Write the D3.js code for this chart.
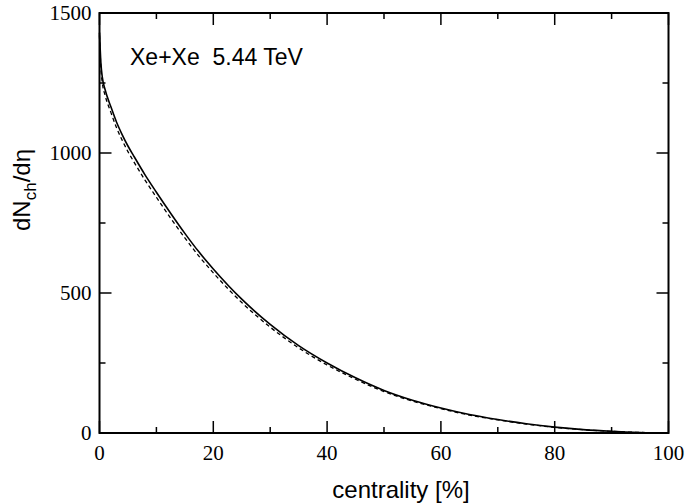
<!DOCTYPE html>
<html>
<head>
<meta charset="utf-8">
<script src="https://cdn.jsdelivr.net/npm/d3@7"></script>
<style>
  body { margin: 0; background: #fff; }
  text { fill: #000; }
</style>
</head>
<body>
<div id="chart"></div>
<script>
const WIDTH = 685, HEIGHT = 503;
const margin = { left: 99.5, right: 16.5, top: 13, bottom: 70 };

// values
const centrality = [0, 0.25, 0.5, 1, 2, 3, 4, 5, 6, 8, 10, 12.5, 15, 17.5, 20, 25, 30, 35, 40, 45, 50, 55, 60, 65, 70, 75, 80, 85, 90, 95, 100];
const solidVals = [1430, 1320, 1270, 1225, 1165, 1110, 1065, 1025, 990, 922, 860, 785, 713, 646, 586, 478, 388, 312, 250, 197, 152, 117, 89, 66, 48, 33, 21, 12, 6, 2, 0];
const dashedVals = [1420, 1300, 1250, 1205, 1145, 1090, 1045, 1005, 970, 903, 842, 767, 697, 631, 572, 466, 378, 304, 243, 192, 148, 114, 87, 64, 47, 32, 20, 12, 6, 2, 0];
const xTicks = [0, 20, 40, 60, 80, 100];
const xMinor = [10, 30, 50, 70, 90];
const yTicks = [0, 500, 1000, 1500];
const yMinor = [250, 750, 1250];

const svg = d3.select("#chart")
    .append("svg")
    .attr("width", WIDTH)
    .attr("height", HEIGHT)

const x = d3.scaleLinear().domain([0, 100]).range([margin.left, WIDTH - margin.right]);
const y = d3.scaleLinear().domain([0, 1500]).range([HEIGHT - margin.bottom, margin.top]);

const x0 = x.range()[0], x1 = x.range()[1], y0 = y.range()[0], y1 = y.range()[1];

// curves
const line = d3.line()
    .x((d, i) => x(centrality[i]))
    .y(d => y(d))
    .curve(d3.curveMonotoneX);

svg.append("path")
    .attr("d", line(dashedVals))
    .attr("fill", "none")
    .attr("stroke", "#000")
    .attr("stroke-width", 1.3)
    .attr("stroke-dasharray", "4,3")

svg.append("path")
    .attr("d", line(solidVals))
    .attr("fill", "none")
    .attr("stroke", "#000")
    .attr("stroke-width", 1.6)

// ticks, inward on all four sides
const tickG = svg.append("g").attr("stroke", "#000").attr("stroke-width", 1.5);
const addX = (vals, len) => vals.forEach(v => {
    tickG.append("line").attr("x1", x(v)).attr("x2", x(v)).attr("y1", y0).attr("y2", y0 - len);
    tickG.append("line").attr("x1", x(v)).attr("x2", x(v)).attr("y1", y1).attr("y2", y1 + len);
});
const addY = (vals, len) => vals.forEach(v => {
    tickG.append("line").attr("y1", y(v)).attr("y2", y(v)).attr("x1", x0).attr("x2", x0 + len);
    tickG.append("line").attr("y1", y(v)).attr("y2", y(v)).attr("x1", x1).attr("x2", x1 - len);
});
addX(xTicks, 12); addX(xMinor, 6);
addY(yTicks, 12); addY(yMinor, 6);

// frame
svg.append("rect")
    .attr("x", x0).attr("y", y1)
    .attr("width", x1 - x0).attr("height", y0 - y1)
    .attr("fill", "none")
    .attr("stroke", "#000")
    .attr("stroke-width", 2)

// tick labels
svg.append("g").selectAll("text").data(xTicks).join("text")
    .attr("x", d => x(d))
    .attr("y", y0 + 27)
    .attr("text-anchor", "middle")
    .style("font", "21px 'Liberation Serif', serif")
    .text(d => d)

svg.append("g").selectAll("text").data(yTicks).join("text")
    .attr("x", x0 - 8)
    .attr("y", d => y(d) + 7)
    .attr("text-anchor", "end")
    .style("font", "21px 'Liberation Serif', serif")
    .text(d => d)

// axis titles
svg.append("text")
    .attr("x", 401)
    .attr("y", 498)
    .attr("text-anchor", "middle")
    .style("font", "24px 'Liberation Sans', Arial, sans-serif")
    .text("centrality [%]")

const yt = svg.append("text")
    .attr("transform", "translate(30,190) rotate(-90)")
    .attr("text-anchor", "middle")
    .style("font", "24px 'Liberation Sans', Arial, sans-serif")
yt.append("tspan").text("dN")
yt.append("tspan").attr("dy", 6).style("font-size", "17px").text("ch")
yt.append("tspan").attr("dy", -6).text("/dη")

svg.append("text")
    .attr("x", 130)
    .attr("y", 65)
    .style("font", "23px 'Liberation Sans', Arial, sans-serif")
    .style("white-space", "pre")
    .text("Xe+Xe  5.44 TeV")
</script>
</body>
</html>
